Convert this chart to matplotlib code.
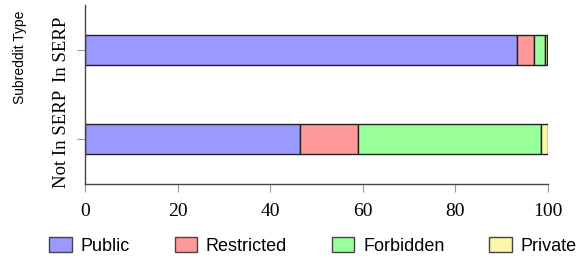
import matplotlib
matplotlib.use("Agg")
import matplotlib.pyplot as plt
from matplotlib.patches import Patch

categories = ["Not In SERP", "In SERP"]
series_names = ["Public", "Restricted", "Forbidden", "Private"]
public = [46.5, 93.4]
restricted = [12.6, 3.6]
forbidden = [39.4, 2.4]
private = [1.5, 0.4]
xticks = [0, 20, 40, 60, 80, 100]
colors = ["#9999ff", "#ff9999", "#99ff99", "#fff5aa"]

fig = plt.figure(figsize=(5.84, 2.6), dpi=100)
ax = fig.add_axes([85 / 584, 1 - 184 / 260, (547.7 - 85) / 584, (184 - 5) / 260])

ypos = list(range(len(categories)))
left = [0.0] * len(categories)
for name, vals, col in zip(series_names, [public, restricted, forbidden, private], colors):
    ax.barh(ypos, vals, left=left, height=0.33, color=col, edgecolor="#222222", linewidth=1.0, label=name)
    left = [l + v for l, v in zip(left, vals)]

ax.set_xlim(0, 100)
ax.set_ylim(-0.5, 1.5)
ax.set_xticks(xticks)
ax.set_xticklabels([str(t) for t in xticks], family="Liberation Serif", fontsize=14)
ax.set_yticks(ypos)
ax.set_yticklabels(categories, family="Liberation Serif", fontsize=13.5, rotation=90, va="center")
ax.tick_params(axis="both", direction="out", color="#999999", length=6, width=0.8)
ax.tick_params(axis="x", pad=8)
ax.tick_params(axis="y", pad=4.5)
for s in ["top", "right"]:
    ax.spines[s].set_visible(False)
for s in ["left", "bottom"]:
    ax.spines[s].set_color("#444444")
    ax.spines[s].set_linewidth(1.0)
ax.set_ylabel("Subreddit Type", family="Liberation Sans", fontsize=10)
ax.yaxis.set_label_coords((27 - 85) / 462.7, (184 - 57) / 179)

handles = [Patch(facecolor=c, edgecolor="#444444", linewidth=1.0, label=n) for c, n in zip(colors, series_names)]
fig.legend(handles=handles, loc="center", bbox_to_anchor=(313 / 584, 1 - 246 / 260), ncol=4, frameon=False,
           prop={"family": "Liberation Sans", "size": 13}, handlelength=1.25, handleheight=0.85,
           handletextpad=0.48, columnspacing=2.48)

fig.savefig("out.png", dpi=100)
